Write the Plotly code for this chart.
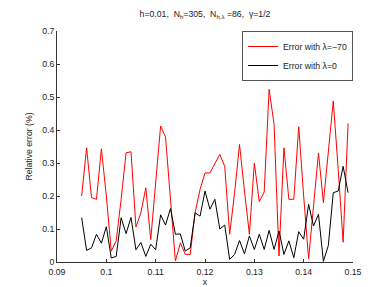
import plotly.graph_objects as go

x_vals = [round(0.095 + 0.001 * i, 3) for i in range(55)]

err_lambda_m70 = [
    0.200, 0.346, 0.195, 0.190, 0.343, 0.200, 0.033, 0.064, 0.190, 0.331,
    0.334, 0.106, 0.149, 0.225, 0.068, 0.240, 0.412, 0.379, 0.200, 0.003,
    0.058, 0.023, 0.023, 0.150, 0.220, 0.270, 0.270, 0.300, 0.326, 0.290,
    0.084, 0.210, 0.356, 0.215, 0.084, 0.300, 0.183, 0.212, 0.523, 0.417,
    0.018, 0.346, 0.190, 0.190, 0.410, 0.200, 0.010, 0.170, 0.330, 0.180,
    0.330, 0.488, 0.280, 0.060, 0.420,
]
err_lambda_0 = [
    0.134, 0.035, 0.043, 0.084, 0.057, 0.107, 0.012, 0.017, 0.134, 0.086,
    0.135, 0.037, 0.059, 0.017, 0.054, 0.037, 0.143, 0.112, 0.162, 0.084,
    0.085, 0.033, 0.043, 0.149, 0.139, 0.215, 0.160, 0.190, 0.100, 0.112,
    0.008, 0.023, 0.065, 0.025, 0.079, 0.038, 0.084, 0.038, 0.096, 0.038,
    0.094, 0.023, 0.064, 0.013, 0.092, 0.069, 0.175, 0.109, 0.145, 0.002,
    0.050, 0.210, 0.215, 0.290, 0.210,
]

x_ticks = [0.09, 0.10, 0.11, 0.12, 0.13, 0.14, 0.15]
x_tick_labels = ["0.09", "0.1", "0.11", "0.12", "0.13", "0.14", "0.15"]
y_ticks = [0, 0.1, 0.2, 0.3, 0.4, 0.5, 0.6, 0.7]
y_tick_labels = ["0", "0.1", "0.2", "0.3", "0.4", "0.5", "0.6", "0.7"]

FONT = "Liberation Sans, Arial, Helvetica, sans-serif"
FS = 8.7

fig = go.Figure()
fig.add_trace(go.Scatter(x=x_vals, y=err_lambda_m70, mode="lines",
                         line=dict(color="#ff0000", width=1),
                         name="Error with λ=−70"))
fig.add_trace(go.Scatter(x=x_vals, y=err_lambda_0, mode="lines",
                         line=dict(color="#000000", width=1),
                         name="Error with λ=0"))

fig.update_layout(
    width=382, height=287,
    margin=dict(l=49, r=37, t=23, b=33, autoexpand=False),
    paper_bgcolor="white", plot_bgcolor="white",
    font=dict(family=FONT, size=FS, color="#222"),
    title=dict(text="h=0.01,  N<sub>h</sub>=305,  N<sub>h,λ</sub> =86,  γ=1/2",
               x=0.5, xref="paper", xanchor="center",
               y=0.99, yref="container", yanchor="top",
               font=dict(family=FONT, size=FS, color="#222")),
    showlegend=True,
    legend=dict(x=1.0, xanchor="right", y=1.0, yanchor="top",
                bgcolor="white", bordercolor="#555", borderwidth=1,
                font=dict(family=FONT, size=FS, color="#222"),
                tracegroupgap=0, itemwidth=30),
    xaxis=dict(range=[0.09, 0.15], tickvals=x_ticks, ticktext=x_tick_labels,
               showgrid=False, zeroline=False, showline=True, linecolor="#333",
               linewidth=1, mirror=False, ticks="inside", ticklen=3,
               tickcolor="#333", automargin=False, ticklabelstandoff=2,
               title=dict(text="x", standoff=0,
                          font=dict(family=FONT, size=FS, color="#222"))),
    yaxis=dict(range=[0, 0.7], tickvals=y_ticks, ticktext=y_tick_labels,
               showgrid=False, zeroline=False, showline=True, linecolor="#333",
               linewidth=1, mirror=False, ticks="inside", ticklen=3,
               tickcolor="#333", automargin=False,
               title=dict(text="Relative error (%)", standoff=8,
                          font=dict(family=FONT, size=FS, color="#222"))),
)

fig.write_html("out.html")
